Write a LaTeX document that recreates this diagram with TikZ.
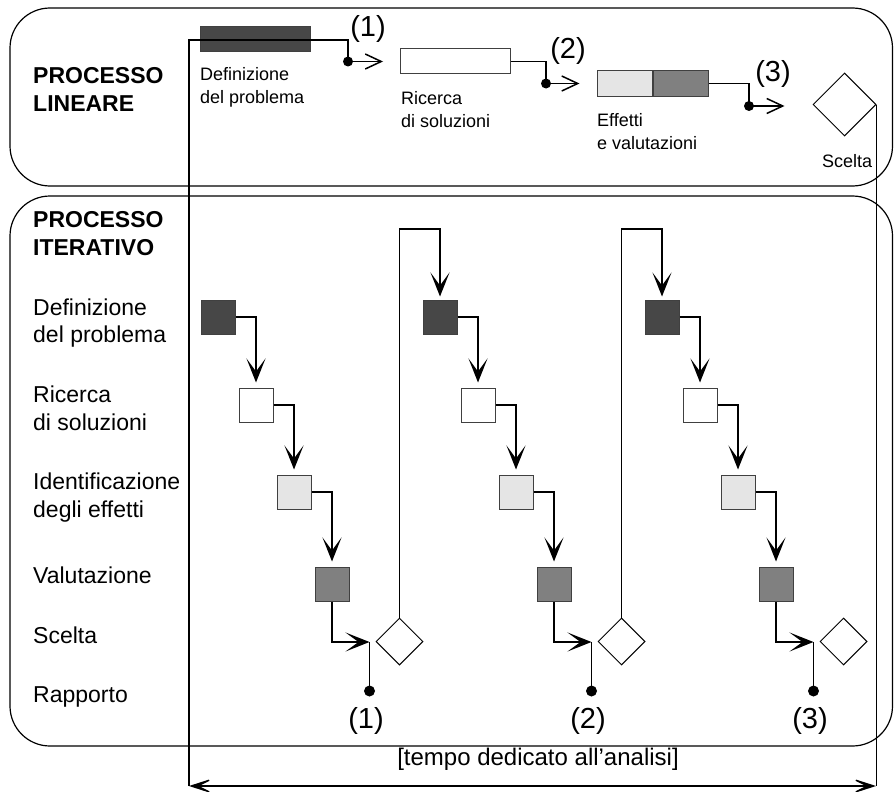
\documentclass[tikz,border=0pt]{standalone}
\usepackage{fontspec}
\setmainfont{Liberation Sans}
\usetikzlibrary{shapes.geometric,arrows.meta,calc}
\definecolor{fdark}{gray}{0.28}
\definecolor{fmid}{gray}{0.5}
\definecolor{flight}{gray}{0.9}
\begin{document}
\begin{tikzpicture}[x=1pt,y=-1pt,
  panel/.style={draw, line width=1.2pt, rounded corners=40pt},
  link/.style={line width=1.3pt},
  sqbox/.style={draw=black!75, line width=1pt, minimum size=34pt, inner sep=0pt},
  bar/.style={draw=black!75, line width=1pt, minimum width=110pt, minimum height=25pt, inner sep=0pt},
  choice/.style={diamond, draw, line width=1pt, inner sep=0pt, minimum width=47pt, minimum height=47pt},
  head/.style={font=\fontsize{23}{28.5}\selectfont\bfseries, anchor=base west, align=left, inner sep=0pt},
  lbl/.style={font=\fontsize{23}{27.5}\selectfont, anchor=base west, align=left, inner sep=0pt},
  small/.style={font=\fontsize{18}{23}\selectfont, anchor=base west, align=left, inner sep=0pt},
  num/.style={font=\fontsize{29}{29}\selectfont, inner sep=0pt},
  flow/.style={link, -{Stealth[length=24pt,width=19pt,inset=13pt]}, shorten >=5pt},
  barb/.style={link, -{Straight Barb[length=16pt,width=15pt,line width=1.5pt]}},
  span/.style={link, {Stealth[length=28pt,width=18pt,inset=18pt]}-{Stealth[length=28pt,width=18pt,inset=18pt]}}
]
\useasboundingbox (0,0) rectangle (894,792);

% the two panels
\draw[panel] (10,8) rectangle (892.5,186);
\draw[panel] (10,196) rectangle (892.5,746);

% ---------- linear process ----------
% (multi-line labels are anchored at the baseline of their last line)
\node[head] (linT) at (33,111.5) {PROCESSO\\LINEARE};

\node[bar, fill=fdark] (bp) at (255,39.5) {};
\node[bar, fill=white] (bs) at (455.5,61.5) {};
\node[bar, minimum width=55pt, fill=flight] (be1) at (624.5,83.5) {};
\node[bar, minimum width=55pt, fill=fmid, anchor=west] (be2) at (be1.east) {};
\node[choice, minimum width=63pt, minimum height=63pt] (sc) at (844.5,104.5) {};

\node[small] (tDef) at (200,103) {Definizione\\del problema};
\node[small] (tRic) at (401,127) {Ricerca\\di soluzioni};
\node[small] (tEff) at (597,149) {Effetti\\e valutazioni};
\node[small] (tSce) at (822,167) {Scelta};

\node[num] (n1) at (368,29) {(1)};
\node[num] (n2) at (568,51) {(2)};
\node[num] (n3) at (773,74) {(3)};

\coordinate (tl) at (189,786);
\coordinate (tr) at (876,786);
\coordinate (c1) at (348,40);
\coordinate (k1) at (348,61.5);
\coordinate (k2) at (546,83.5);
\coordinate (k3) at (749,106);

\draw[link] (tl) |- (c1) -- (k1);
\draw[link] (bs.east) -| (k2);
\draw[link] (be2.east) -| (k3);
\foreach \k/\e/\g in {k1/bs/17, k2/be1/17, k3/sc/28} {
  \fill (\k) circle (5pt);
  \draw[barb] (\k) -- ($(\k -| \e.west)+(-\g,0)$);
}

% time span
\draw[link] (sc.east) -- (sc.east |- tr);
\draw[span] (tl) -- (tr);
\node[lbl, anchor=base, font=\fontsize{24}{28}\selectfont] (tm) at (538,765) {[tempo dedicato all’analisi]};

% ---------- iterative process ----------
\node[head] (itT) at (33,255.5) {PROCESSO\\ITERATIVO};
\node[lbl] (lDef) at (33,342.5) {Definizione\\del problema};
\node[lbl] (lRic) at (33,430) {Ricerca\\di soluzioni};
\node[lbl] (lIde) at (33,517) {Identificazione\\degli effetti};
\node[lbl] (lVal) at (33,583) {Valutazione};
\node[lbl] (lSce) at (33,643) {Scelta};
\node[lbl] (lRap) at (33,702) {Rapporto};

\foreach \i/\dx in {1/0,2/222,3/444} {
  \node[sqbox, fill=fdark]  (d\i) at (218+\dx,317) {};
  \node[sqbox, fill=white]  (w\i) at (256+\dx,405) {};
  \node[sqbox, fill=flight] (l\i) at (294+\dx,492) {};
  \node[sqbox, fill=fmid]   (g\i) at (332+\dx,584) {};
  \node[choice] (x\i) at (399.5+\dx,641.5) {};
  \coordinate (t\i) at (369.5+\dx,642);
  \coordinate (p\i) at (369.5+\dx,691);
  \coordinate (q\i) at (399.5+\dx,229);
  \draw[flow] (d\i.east) -| (w\i.north);
  \draw[flow] (w\i.east) -| (l\i.north);
  \draw[flow] (l\i.east) -| (g\i.north);
  \draw[flow, shorten >=0pt] (g\i.south) |- (t\i);
  \draw[link] (t\i) -- (p\i);
  \fill (p\i) circle (5.5pt);
  \node[num] (r\i) at (366+\dx,721) {(\i)};
}
\draw[flow, shorten >=3pt] (x1.north) -- (q1) -| (d2.north);
\draw[flow, shorten >=3pt] (x2.north) -- (q2) -| (d3.north);
\end{tikzpicture}
\end{document}
